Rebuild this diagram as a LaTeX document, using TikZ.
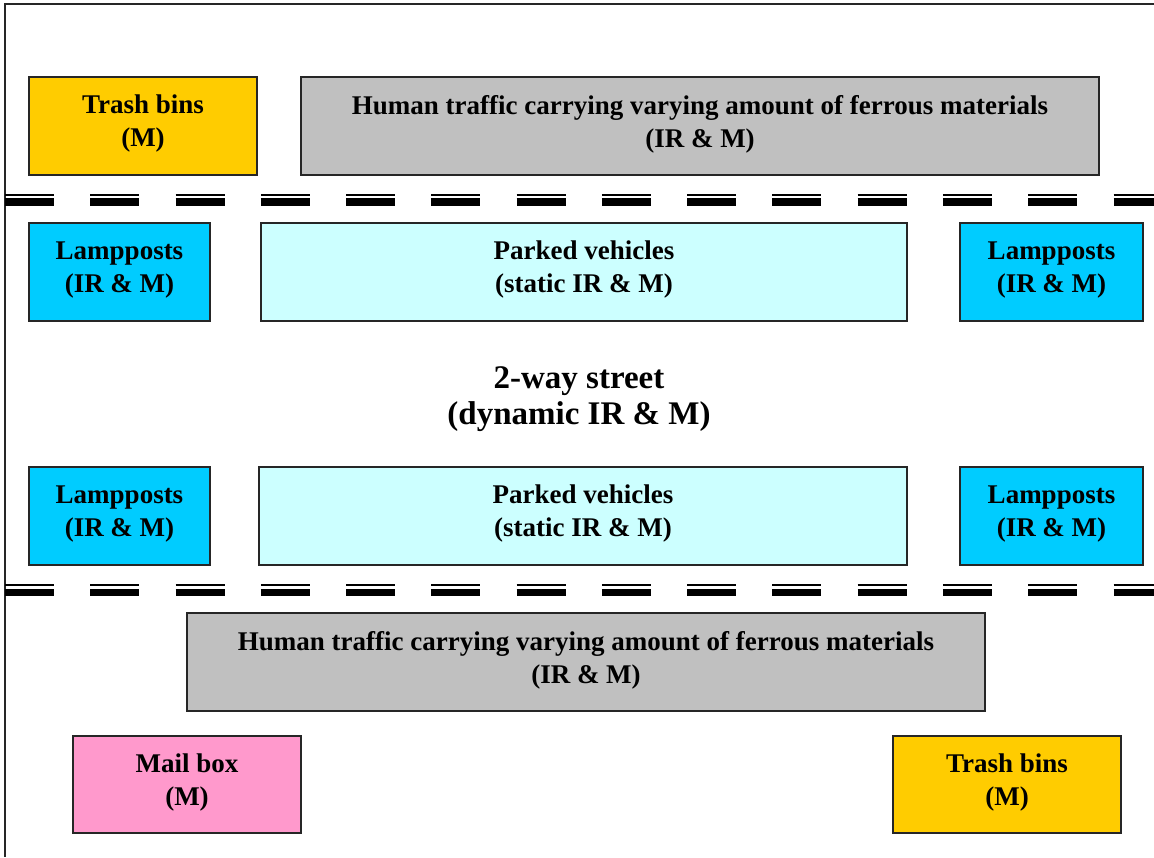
\documentclass[tikz,border=0pt]{standalone}
\usepackage{fontspec}
\setmainfont{Liberation Serif}
\definecolor{binyellow}{HTML}{FFCC00}
\definecolor{crowdgray}{HTML}{C0C0C0}
\definecolor{lampcyan}{HTML}{00CCFF}
\definecolor{carcyan}{HTML}{CCFFFF}
\definecolor{mailpink}{HTML}{FF99CC}
\begin{document}
\begin{tikzpicture}[x=1pt,y=-1pt,
  frame/.style={draw=black!85, line width=1.6pt},
  zone/.style={draw=black!85, line width=1.6pt, align=center, inner sep=0pt,
    text depth=10pt, font=\bfseries\fontsize{27}{33}\selectfont},
  curbthin/.style={line width=1.6pt, dash pattern=on 49pt off 36.27pt},
  curbthick/.style={line width=7.5pt, dash pattern=on 49pt off 36.27pt}]
\useasboundingbox (0,0) rectangle (1154,857);
\fill[white] (0,0) rectangle (1154,857);

% outer frame (top and left edges)
\draw[frame] (1154,4) -- (5,4) -- (5,857);

% upper pavement
\node[zone, fill=binyellow, minimum width=228pt, minimum height=98pt] (binsTop) at (143,126) {Trash bins\\(M)};
\node[zone, fill=crowdgray, minimum width=798pt, minimum height=98pt] (crowdTop) at (700,126) {Human traffic carrying varying amount of ferrous materials\\(IR \& M)};

% upper kerb line
\draw[curbthin] (5,195) -- (1154,195);
\draw[curbthick] (5,202) -- (1154,202);

% upper parking lane
\node[zone, fill=lampcyan, minimum width=181pt, minimum height=98pt] (lampTL) at (119.5,272) {Lampposts\\(IR \& M)};
\node[zone, fill=carcyan, minimum width=646pt, minimum height=98pt] (carsTop) at (584,272) {Parked vehicles\\(static IR \& M)};
\node[zone, fill=lampcyan, minimum width=183pt, minimum height=98pt] (lampTR) at (1051.5,272) {Lampposts\\(IR \& M)};

% carriageway
\node[align=center, font=\bfseries\fontsize{33}{36}\selectfont] (street) at (579,399) {2-way street\\(dynamic IR \& M)};

% lower parking lane
\node[zone, fill=lampcyan, minimum width=181pt, minimum height=98pt] (lampBL) at (119.5,516) {Lampposts\\(IR \& M)};
\node[zone, fill=carcyan, minimum width=648pt, minimum height=98pt] (carsBot) at (583,516) {Parked vehicles\\(static IR \& M)};
\node[zone, fill=lampcyan, minimum width=183pt, minimum height=98pt] (lampBR) at (1051.5,516) {Lampposts\\(IR \& M)};

% lower kerb line
\draw[curbthin] (5,585) -- (1154,585);
\draw[curbthick] (5,592.5) -- (1154,592.5);

% lower pavement
\node[zone, fill=crowdgray, minimum width=798pt, minimum height=98pt] (crowdBot) at (586,662) {Human traffic carrying varying amount of ferrous materials\\(IR \& M)};
\node[zone, fill=mailpink, minimum width=228pt, minimum height=97pt] (mail) at (187,784.5) {Mail box\\(M)};
\node[zone, fill=binyellow, minimum width=228pt, minimum height=97pt] (binsBot) at (1007,784.5) {Trash bins\\(M)};
\end{tikzpicture}
\end{document}
